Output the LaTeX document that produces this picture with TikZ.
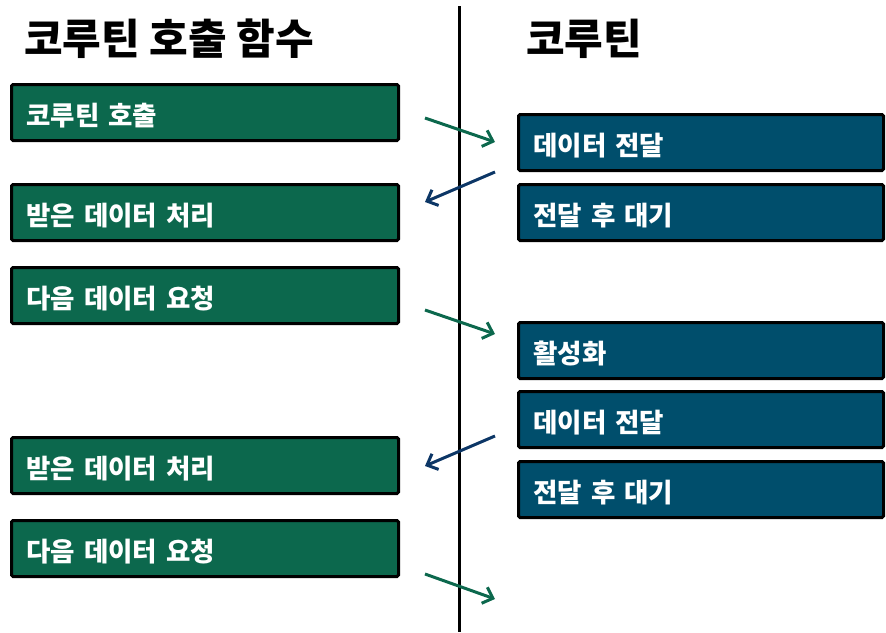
\documentclass[tikz,border=0pt]{standalone}
\usepackage{fontspec}
\setmainfont{Noto Sans CJK KR}
\usetikzlibrary{arrows.meta,positioning}
\definecolor{callercol}{RGB}{12,104,77}
\definecolor{coroutcol}{RGB}{0,78,108}
\definecolor{backcol}{RGB}{12,54,102}

\begin{document}
\begin{tikzpicture}[
    x=1pt, y=-1pt,
    callbox/.style={draw, line width=3pt, rounded corners=1.5pt, fill=callercol, text=white, font=\bfseries\fontsize{26.5}{30}\selectfont, minimum width=387pt, minimum height=56pt, inner xsep=15pt, text width=357pt, text height=26pt, text depth=0pt, align=left},
    corbox/.style={callbox, fill=coroutcol, minimum width=365pt, text width=335pt},
    head/.style={anchor=west, inner sep=0pt, font=\bfseries\fontsize{42}{46}\selectfont},
    sendarr/.style={draw=callercol, line width=3pt, -{Straight Barb[length=9pt, width=17pt, line width=3pt]}},
    backarr/.style={sendarr, draw=backcol},
]
\useasboundingbox (0,0) rectangle (886,632);
\node[head] (lefthead) at (24,39) {코루틴 호출 함수};
\node[head] (righthead) at (526,39) {코루틴};
\coordinate (top) at (459,6);
\coordinate (bottom) at (459,632);
\draw[line width=3pt] (top) -- (bottom);
% caller side
\node[callbox] (call) at (205,112.5) {코루틴 호출};
\node[callbox] (recv1) at (205,212.5) {받은 데이터 처리};
\node[callbox] (ask1) at (205,295.5) {다음 데이터 요청};
\node[callbox] (recv2) at (205,465.5) {받은 데이터 처리};
\node[callbox] (ask2) at (205,548.5) {다음 데이터 요청};
% coroutine side
\node[corbox] (send1) at (701,142.5) {데이터 전달};
\node[corbox] (wait1) at (701,212.5) {전달 후 대기};
\node[corbox] (wake) at (701,350.5) {활성화};
\node[corbox] (send2) at (701,419.5) {데이터 전달};
\node[corbox] (wait2) at (701,489.5) {전달 후 대기};
% arrows across the line
\coordinate (g1a) at (425,118); \coordinate (g1b) at (495,142);
\coordinate (b1a) at (495,172); \coordinate (b1b) at (425,202);
\coordinate (g2a) at (425,310); \coordinate (g2b) at (495,334);
\coordinate (b2a) at (495,436); \coordinate (b2b) at (425,466);
\coordinate (g3a) at (425,574); \coordinate (g3b) at (495,599);
\draw[sendarr] (g1a) -- (g1b);
\draw[backarr] (b1a) -- (b1b);
\draw[sendarr] (g2a) -- (g2b);
\draw[backarr] (b2a) -- (b2b);
\draw[sendarr] (g3a) -- (g3b);
\end{tikzpicture}
\end{document}
